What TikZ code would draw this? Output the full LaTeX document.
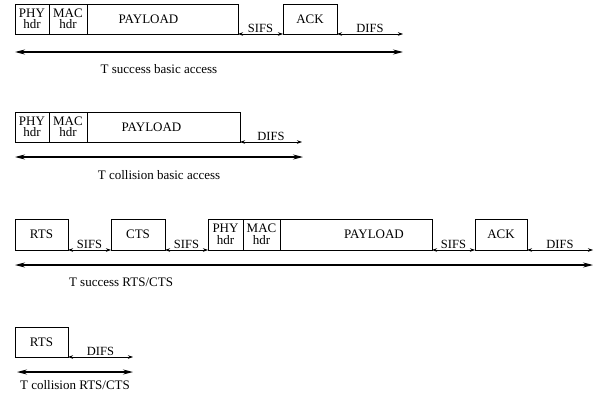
\documentclass[tikz,border=0pt]{standalone}
\usepackage{fontspec}
\setmainfont{Liberation Serif}
\usetikzlibrary{arrows.meta}
\begin{document}
\begin{tikzpicture}[x=1pt,y=-1pt,
  frame/.style={draw, line width=0.9pt, inner sep=0pt, outer sep=0pt, anchor=north west,
    font=\fontsize{13}{11.5}\selectfont, align=center},
  gap/.style={draw, line width=0.6pt, {Stealth[length=5pt,width=3.5pt]}-{Stealth[length=5pt,width=3.5pt]}},
  span/.style={draw, line width=1.1pt, {Stealth[length=10pt,width=5pt]}-{Stealth[length=10pt,width=5pt]}},
  gaplbl/.style={font=\fontsize{12.5}{12.5}\selectfont, anchor=south, inner sep=1.5pt},
  spanlbl/.style={font=\fontsize{13}{13}\selectfont, inner sep=0pt}
]
\useasboundingbox (0,0) rectangle (599,396);

% ---------- Row 1: success basic access ----------
\node[frame, minimum width=34pt, minimum height=30pt] (r1phy) at (15,4) {PHY\\hdr};
\node[frame, minimum width=38pt, minimum height=30pt] (r1mac) at (49,4) {MAC\\hdr};
\node[frame, minimum width=151pt, minimum height=30pt,
  label={[xshift=-14pt,font=\fontsize{13}{13}\selectfont]center:PAYLOAD}] (r1pl) at (87,4) {};
\node[frame, minimum width=54pt, minimum height=30pt] (r1ack) at (283,4) {ACK};
\coordinate (r1end) at (403,34);
\draw[gap] (r1pl.south east) -- node[gaplbl]{SIFS} (r1ack.south west);
\draw[gap] (r1ack.south east) -- node[gaplbl]{DIFS} (r1end);
\coordinate (r1L) at (15,52);
\coordinate (r1R) at (403,52);
\draw[span] (r1L) -- (r1R);
\node[spanlbl] (r1lbl) at (159,69) {T success basic access};

% ---------- Row 2: collision basic access ----------
\node[frame, minimum width=34pt, minimum height=30pt] (r2phy) at (15,112) {PHY\\hdr};
\node[frame, minimum width=38pt, minimum height=30pt] (r2mac) at (49,112) {MAC\\hdr};
\node[frame, minimum width=153pt, minimum height=30pt,
  label={[xshift=-12pt,font=\fontsize{13}{13}\selectfont]center:PAYLOAD}] (r2pl) at (87,112) {};
\coordinate (r2end) at (302,142);
\draw[gap] (r2pl.south east) -- node[gaplbl]{DIFS} (r2end);
\coordinate (r2L) at (15,157);
\coordinate (r2R) at (303,157);
\draw[span] (r2L) -- (r2R);
\node[spanlbl] (r2lbl) at (159,175) {T collision basic access};

% ---------- Row 3: success RTS/CTS ----------
\node[frame, minimum width=53pt, minimum height=31pt] (r3rts) at (15,219) {RTS};
\node[frame, minimum width=54pt, minimum height=31pt] (r3cts) at (111,219) {CTS};
\node[frame, minimum width=35pt, minimum height=31pt] (r3phy) at (208,219) {PHY\\hdr};
\node[frame, minimum width=37pt, minimum height=31pt] (r3mac) at (243,219) {MAC\\hdr};
\node[frame, minimum width=152pt, minimum height=31pt,
  label={[xshift=18pt,font=\fontsize{13}{13}\selectfont]center:PAYLOAD}] (r3pl) at (280,219) {};
\node[frame, minimum width=52pt, minimum height=31pt] (r3ack) at (475,219) {ACK};
\coordinate (r3end) at (593,250);
\draw[gap] (r3rts.south east) -- node[gaplbl]{SIFS} (r3cts.south west);
\draw[gap] (r3cts.south east) -- node[gaplbl]{SIFS} (r3phy.south west);
\draw[gap] (r3pl.south east) -- node[gaplbl]{SIFS} (r3ack.south west);
\draw[gap] (r3ack.south east) -- node[gaplbl]{DIFS} (r3end);
\coordinate (r3L) at (15,265);
\coordinate (r3R) at (593,265);
\draw[span] (r3L) -- (r3R);
\node[spanlbl] (r3lbl) at (121,282) {T success RTS/CTS};

% ---------- Row 4: collision RTS/CTS ----------
\node[frame, minimum width=53pt, minimum height=30pt] (r4rts) at (15,327) {RTS};
\coordinate (r4end) at (133,357);
\draw[gap] (r4rts.south east) -- node[gaplbl]{DIFS} (r4end);
\coordinate (r4L) at (17,372);
\coordinate (r4R) at (133,372);
\draw[span] (r4L) -- (r4R);
\node[spanlbl] (r4lbl) at (75,385) {T collision RTS/CTS};
\end{tikzpicture}
\end{document}
